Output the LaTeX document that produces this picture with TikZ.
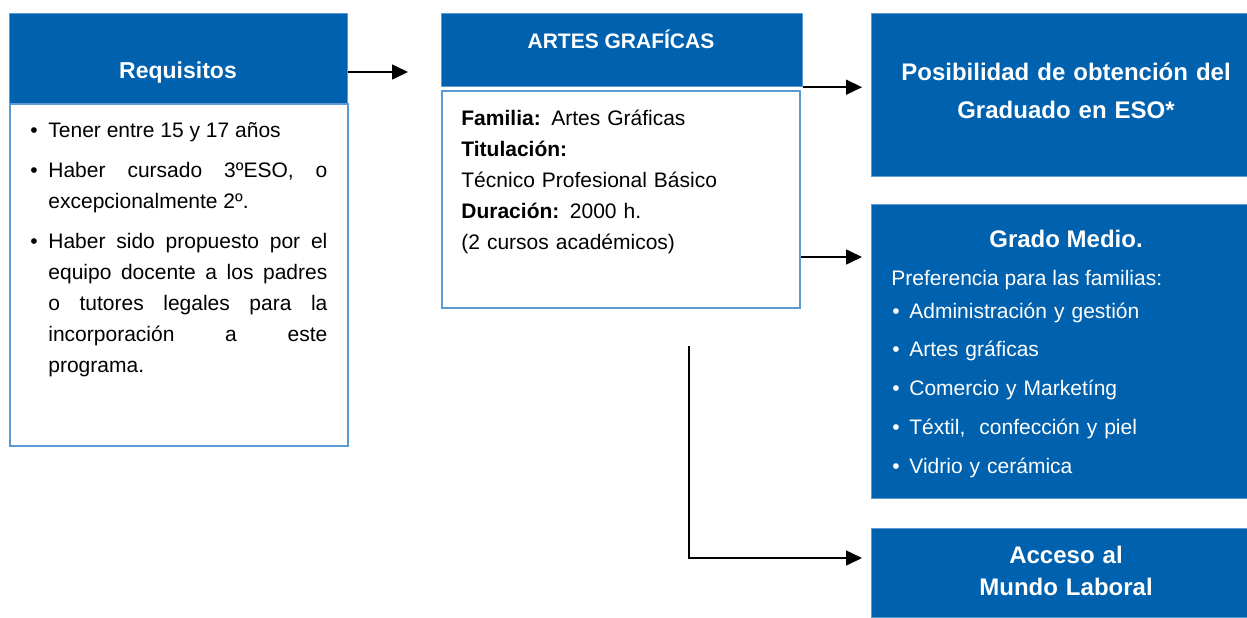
\documentclass[tikz,border=0pt]{standalone}
\usepackage{fontspec}
\setmainfont{Liberation Sans}
\usetikzlibrary{arrows.meta,positioning}
\definecolor{boxblue}{RGB}{0,98,174}
\definecolor{lineblue}{RGB}{91,155,213}
\newcommand{\bitem}[1][8.5pt]{\hangindent=#1\hangafter=1\noindent\makebox[#1][l]{\textbullet}}

\begin{document}
\begin{tikzpicture}[
    x=0.5pt, y=-0.5pt,
    head/.style={rectangle, fill=boxblue, draw=lineblue, line width=0.6pt, anchor=north west, inner sep=0pt},
    body/.style={rectangle, draw=lineblue, line width=0.8pt, anchor=north west, inner sep=0pt},
    title/.style={font=\bfseries\fontsize{12}{19}\selectfont, text=white, anchor=base, inner sep=0pt},
    txt/.style={font=\fontsize{10.5}{15.5}\selectfont, anchor=base west, inner sep=0pt},
    link/.style={line width=0.8pt, -{Triangle[length=8pt,width=7.5pt]}}
  ]
    \useasboundingbox (0,0) rectangle (1247,617);

    % Requisitos
    \node[head, minimum width=169pt, minimum height=45pt] (reqhead) at (9,13) {};
    \node[body, minimum width=169pt, minimum height=171pt] (reqbody) at (9,103) {};
    \node[title, font=\bfseries\fontsize{11.5}{14}\selectfont] (reqtitle) at (178,78) {Requisitos};
    \node[txt, text width=148.5pt, align=justify] (reqtext) at (30,137) {\setlength{\parskip}{4.5pt}%
      \bitem[9pt]Tener entre 15 y 17 años\par
      \bitem[9pt]Haber cursado 3ºESO, o\linebreak excepcionalmente 2º.\par
      \bitem[9pt]Haber sido propuesto por el\linebreak equipo docente a los padres\linebreak
      o tutores legales para la\linebreak incorporación a este\linebreak programa.\par};

    % Artes graficas
    \node[head, minimum width=180.5pt, minimum height=36.5pt] (arthead) at (441,13) {};
    \node[body, minimum width=179pt, minimum height=108.5pt] (artbody) at (441,90) {};
    \node[title, font=\bfseries\fontsize{10.5}{14}\selectfont] (arttitle) at (621,48) {ARTES GRAFÍCAS};
    \node[txt, text width=170pt, align=left, font=\fontsize{10.5}{15.6}\selectfont] (arttext) at (461,125)
      {\textbf{Familia:} Artes Gráficas\\ \textbf{Titulación:}\\ Técnico Profesional Básico\\
       \textbf{Duración:} 2000 h.\\ (2 cursos académicos)};

    % Salidas
    \node[head, minimum width=188pt, minimum height=81.5pt] (esobox) at (871,13) {};
    \node[title, text width=185pt, align=center] (esotext) at (1066,80)
      {Posibilidad de obtención del\\ Graduado en ESO*};

    \node[head, minimum width=188pt, minimum height=147pt] (gradbox) at (871,204) {};
    \node[title] (gradtitle) at (1066,247) {Grado Medio.};
    \node[txt, text=white] (gradpref) at (891,285) {Preferencia para las familias:};
    \node[txt, text=white, text width=170pt, align=left, font=\fontsize{10.5}{19.4}\selectfont] (gradlist) at (892,318)
      {\bitem Administración y gestión\par
       \bitem Artes gráficas\par
       \bitem Comercio y Marketíng\par
       \bitem Téxtil,\ \ confección y piel\par
       \bitem Vidrio y cerámica\par};

    \node[head, minimum width=188pt, minimum height=44.5pt] (laborbox) at (871,528) {};
    \node[title, text width=185pt, align=center, font=\bfseries\fontsize{12}{16}\selectfont] (labortext) at (1066,563)
      {Acceso al\\ Mundo Laboral};

    % Arrows
    \coordinate (reqout) at (408,72);
    \coordinate (gradin) at (862,257);
    \coordinate (laborup) at (689,346);
    \coordinate (laborin) at (862,558);
    \draw[link] (reqhead.east |- reqout) -- (reqout);
    \draw[link, shorten >=4.5pt] (arthead.south east) -- (arthead.south east -| esobox.west);
    \draw[link] (artbody.east |- gradin) -- (gradin);
    \draw[link] (laborup) |- (laborin);
  \end{tikzpicture}
\end{document}
